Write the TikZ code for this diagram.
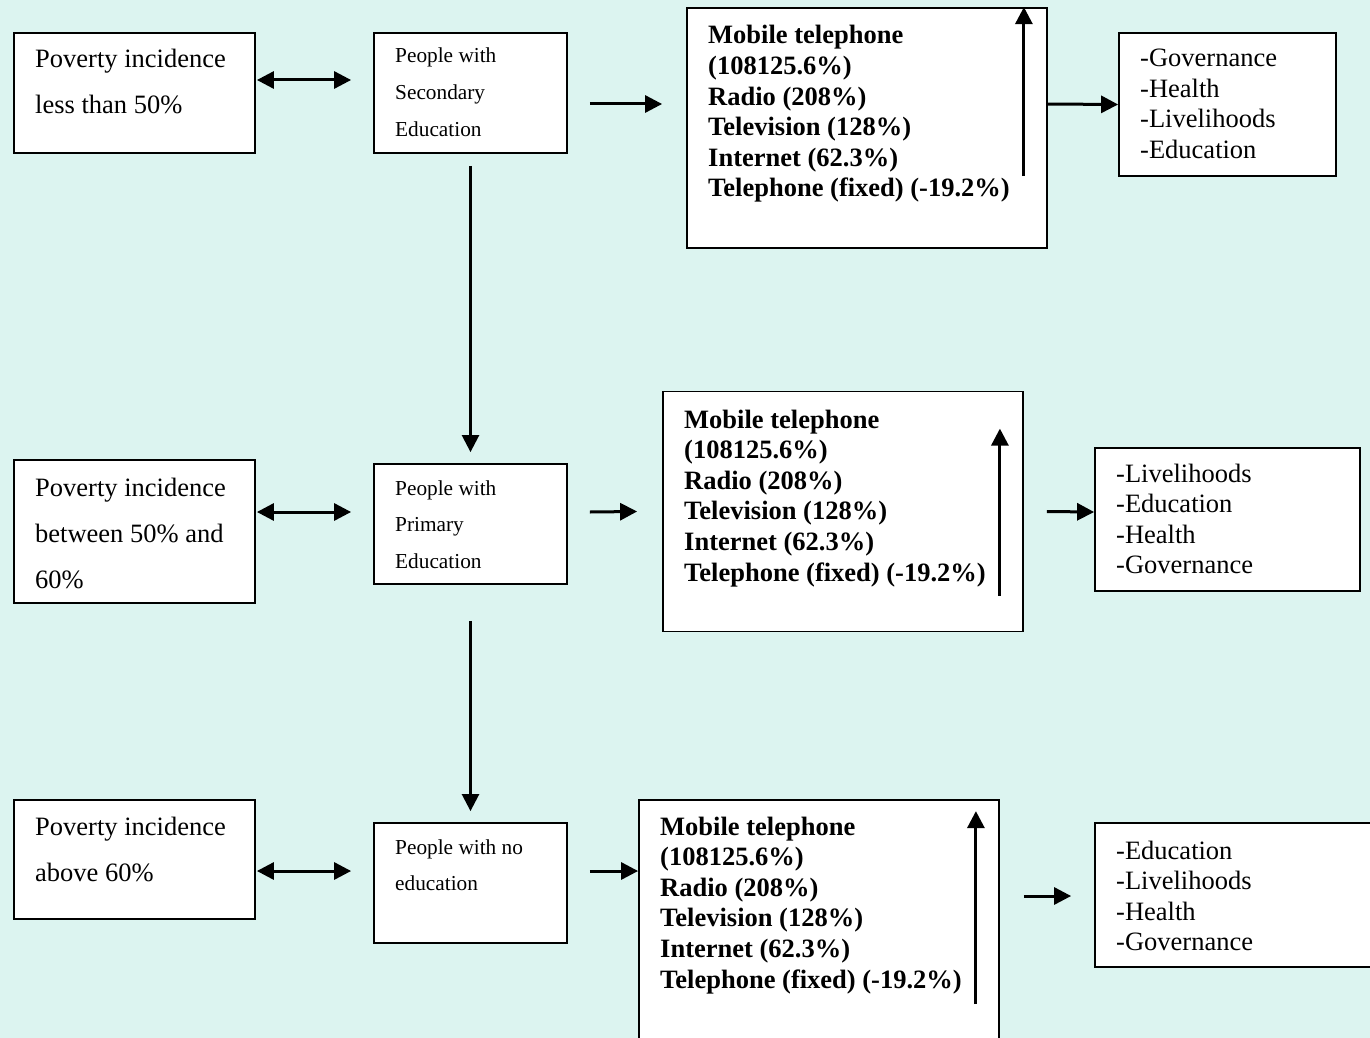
\documentclass[tikz,border=0pt]{standalone}
\usepackage{fontspec}
\setmainfont{Liberation Serif}
\usepackage{xcolor}
\usetikzlibrary{arrows.meta}

\definecolor{bgmint}{HTML}{DCF4F0}

\tikzset{
  box/.style={draw, fill=white, line width=1.8pt, inner sep=0pt},
  txt/.style={anchor=base west, inner sep=0pt},
  povtext/.style={txt, font=\fontsize{26.5}{46}\selectfont},
  edutext/.style={txt, font=\fontsize{21.3}{36.7}\selectfont},
  medtext/.style={txt, font=\fontsize{26.5}{30.6}\selectfont\bfseries},
  outtext/.style={txt, font=\fontsize{26.5}{30.5}\selectfont},
  flow/.style={line width=3pt, -{Triangle[length=17pt,width=17pt]}},
  down/.style={line width=2.5pt, -{Triangle[length=17pt,width=17pt]}},
  both/.style={line width=3pt, {Triangle[length=17pt,width=17pt]}-{Triangle[length=17pt,width=17pt]}}
}

\newcommand{\rows}[1]{\begin{tabular}[t]{@{}l@{}}#1\end{tabular}}
\newcommand{\medialist}{\rows{Mobile telephone\\(108125.6\%)\\Radio (208\%)\\Television (128\%)\\Internet (62.3\%)\\Telephone (fixed) (-19.2\%)}}

\begin{document}
\begin{tikzpicture}[x=1pt, y=-1pt]
  \useasboundingbox (0,0) rectangle (1370,1038);
  \clip (0,0) rectangle (1370,1038);
  \fill[bgmint] (0,0) rectangle (1370,1038);

  % Row 1: below 50%
  \node[box, minimum width=241, minimum height=120] (pov1) at (134.5,93) {};
  \node[box, minimum width=193, minimum height=120] (sec1) at (470.5,93) {};
  \node[box, minimum width=360, minimum height=240] (med1) at (867,128) {};
  \node[box, minimum width=217, minimum height=143] (out1) at (1227.5,104.5) {};
  \node[povtext] (pov1t) at (35,68) {\rows{Poverty incidence\\less than 50\%}};
  \node[edutext] (sec1t) at (395,63) {\rows{People with\\Secondary\\Education}};
  \node[medtext] (med1t) at (708,44) {\medialist};
  \node[outtext] (out1t) at (1140,67) {\rows{-Governance\\-Health\\-Livelihoods\\-Education}};

  \draw[both] ([shift={(1,-13)}]pov1.east) -- ([shift={(-22,-13)}]sec1.west);
  \draw[flow] ([shift={(22,11)}]sec1.east) -- ([shift={(-24,-24)}]med1.west);
  \draw[flow] ([shift={(0,-24)}]med1.east) -- (out1.west);
  \draw[flow] ([shift={(-24,169)}]med1.north east) -- ([shift={(-24,0)}]med1.north east);

  % Row 2: between 50% and 60%
  \node[box, minimum width=241, minimum height=143] (pov2) at (134.5,531.5) {};
  \node[box, minimum width=193, minimum height=120] (sec2) at (470.5,524) {};
  \node[box, minimum width=360, minimum height=240] (med2) at (843,511.5) {};
  \node[box, minimum width=265, minimum height=143] (out2) at (1227.5,519.5) {};
  \node[povtext] (pov2t) at (35,496) {\rows{Poverty incidence\\between 50\% and\\60\%}};
  \node[edutext] (sec2t) at (395,495) {\rows{People with\\Primary\\Education}};
  \node[medtext] (med2t) at (684,428) {\medialist};
  \node[outtext] (out2t) at (1116,482) {\rows{-Livelihoods\\-Education\\-Health\\-Governance}};

  \draw[down] ([shift={(0,12)}]sec1.south) -- ([shift={(0,-11)}]sec2.north);
  \draw[both] ([shift={(1,-19.5)}]pov2.east) -- ([shift={(-22,-12)}]sec2.west);
  \draw[flow] ([shift={(22,-12)}]sec2.east) -- ([shift={(-25,0)}]med2.west);
  \draw[flow] ([shift={(23,0)}]med2.east) -- ([shift={(0,-7.5)}]out2.west);
  \draw[flow] ([shift={(-24,205)}]med2.north east) -- ([shift={(-24,38)}]med2.north east);

  % Row 3: above 60%
  \node[box, minimum width=241, minimum height=119] (pov3) at (134.5,859.5) {};
  \node[box, minimum width=193, minimum height=120] (sec3) at (470.5,883) {};
  \node[box, minimum width=360, minimum height=240] (med3) at (819,920) {};
  \node[box, minimum width=295, minimum height=144] (out3) at (1242.5,895) {};
  \node[povtext] (pov3t) at (35,835) {\rows{Poverty incidence\\above 60\%}};
  \node[edutext] (sec3t) at (395,854) {\rows{People with no\\education}};
  \node[medtext] (med3t) at (660,835) {\medialist};
  \node[outtext] (out3t) at (1116,859) {\rows{-Education\\-Livelihoods\\-Health\\-Governance}};

  \draw[down] ([shift={(0,36)}]sec2.south) -- ([shift={(0,-11)}]sec3.north);
  \draw[both] ([shift={(1,11.5)}]pov3.east) -- ([shift={(-22,-12)}]sec3.west);
  \draw[flow] ([shift={(22,-12)}]sec3.east) -- ([shift={(0,-49)}]med3.west);
  \draw[flow] ([shift={(24,-24)}]med3.east) -- ([shift={(-23,1)}]out3.west);
  \draw[flow] ([shift={(-24,205)}]med3.north east) -- ([shift={(-24,12)}]med3.north east);
\end{tikzpicture}
\end{document}
